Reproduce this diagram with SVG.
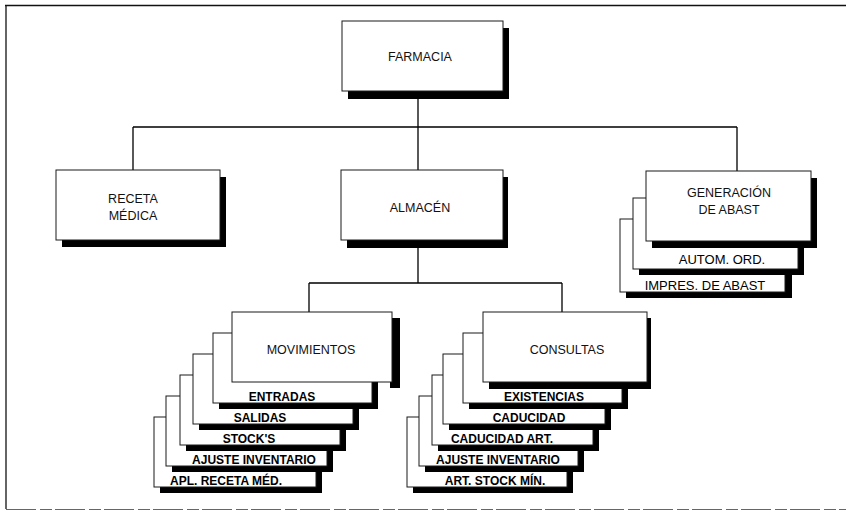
<svg xmlns="http://www.w3.org/2000/svg" width="850" height="516" viewBox="0 0 850 516">
  <style>
    .frame { stroke: #111; stroke-width: 1.3; fill: none; }
    .frame-low { stroke: #666; stroke-width: 1; fill: none; stroke-dasharray: 30 4 12 3; }
    .box { fill: #fff; stroke: #1a1a1a; stroke-width: 1; }
    .shadow { fill: #000; }
    .link { stroke: #000; stroke-width: 1.3; fill: none; }
    .label { font-family: "Liberation Sans", Arial, sans-serif; font-size: 12.5px; fill: #111; text-anchor: middle; }
    .tab { font-family: "Liberation Sans", Arial, sans-serif; font-size: 12px; font-weight: bold; fill: #000; text-anchor: middle; }
    .tab-n { font-family: "Liberation Sans", Arial, sans-serif; font-size: 13px; fill: #000; text-anchor: middle; }
  </style>

  <!-- page frame -->
  <g id="frame">
    <line class="frame" x1="5" y1="5.5" x2="846" y2="5.5"/>
    <line class="frame" x1="6" y1="5" x2="6" y2="509"/>
    <line class="frame-low" x1="6" y1="509.5" x2="846" y2="509.5"/>
  </g>

  <!-- connectors -->
  <g id="connectors">
    <path class="link" d="M418 99 V127 M133 127 H737 M133 127 V170 M418 127 V170 M737 127 V171"/>
    <path class="link" d="M418 248 V283 M309 283 H562 M309 283 V312 M562 283 V312"/>
  </g>

  <!-- top level -->
  <g id="farmacia">
    <rect class="shadow" x="348" y="28" width="161" height="71"/>
    <rect class="box" x="342" y="21" width="161" height="70"/>
    <text class="label" x="420" y="61">FARMACIA</text>
  </g>

  <!-- second level -->
  <g id="receta-medica">
    <rect class="shadow" x="62" y="177" width="164" height="70"/>
    <rect class="box" x="56" y="170" width="164" height="70"/>
    <text class="label" x="133" y="203">RECETA</text>
    <text class="label" x="133" y="220">MÉDICA</text>
  </g>

  <g id="almacen">
    <rect class="shadow" x="347" y="177" width="161" height="71"/>
    <rect class="box" x="341" y="170" width="162" height="70"/>
    <text class="label" x="420" y="212">ALMACÉN</text>
  </g>

  <!-- supply generation stack, drawn back to front -->
  <g id="generacion-abast">
    <g id="impres-abast">
      <rect class="shadow" x="626" y="226" width="166" height="72"/>
      <rect class="box" x="620" y="219" width="165" height="73"/>
      <text class="tab-n" x="705" y="290">IMPRES. DE ABAST</text>
    </g>
    <g id="autom-ord">
      <rect class="shadow" x="639" y="205" width="165" height="70"/>
      <rect class="box" x="633" y="198" width="165" height="71"/>
      <text class="tab-n" x="722" y="264">AUTOM. ORD.</text>
    </g>
    <g id="generacion">
      <rect class="shadow" x="652" y="178" width="165" height="70"/>
      <rect class="box" x="646" y="171" width="165" height="70"/>
      <text class="label" x="729" y="197">GENERACIÓN</text>
      <text class="label" x="729" y="214">DE ABAST</text>
    </g>
  </g>

  <!-- movements stack, drawn back to front -->
  <g id="movimientos-stack">
    <g id="apl-receta">
      <rect class="shadow" x="160" y="423" width="162" height="70"/>
      <rect class="box" x="154" y="417" width="162" height="70"/>
      <text class="tab" x="226" y="485">APL. RECETA MÉD.</text>
    </g>
    <g id="mov-ajuste">
      <rect class="shadow" x="172" y="402" width="161" height="70"/>
      <rect class="box" x="166" y="396" width="161" height="70"/>
      <text class="tab" x="254" y="464">AJUSTE INVENTARIO</text>
    </g>
    <g id="stocks">
      <rect class="shadow" x="186" y="381" width="160" height="70"/>
      <rect class="box" x="180" y="375" width="160" height="70"/>
      <text class="tab" x="249" y="443">STOCK'S</text>
    </g>
    <g id="salidas">
      <rect class="shadow" x="199" y="360" width="160" height="70"/>
      <rect class="box" x="193" y="354" width="160" height="70"/>
      <text class="tab" x="260" y="422">SALIDAS</text>
    </g>
    <g id="entradas">
      <rect class="shadow" x="219" y="339" width="159" height="70"/>
      <rect class="box" x="213" y="333" width="159" height="70"/>
      <text class="tab" x="282" y="401">ENTRADAS</text>
    </g>
    <g id="movimientos">
      <rect class="shadow" x="390" y="318" width="10" height="70"/>
      <rect class="box" x="232" y="312" width="160" height="70"/>
      <text class="label" x="311" y="354">MOVIMIENTOS</text>
    </g>
  </g>

  <!-- queries stack, drawn back to front -->
  <g id="consultas-stack">
    <g id="art-stock-min">
      <rect class="shadow" x="413" y="423" width="160" height="70"/>
      <rect class="box" x="407" y="417" width="160" height="70"/>
      <text class="tab" x="495" y="485">ART. STOCK MÍN.</text>
    </g>
    <g id="con-ajuste">
      <rect class="shadow" x="425" y="402" width="159" height="70"/>
      <rect class="box" x="419" y="396" width="159" height="70"/>
      <text class="tab" x="498" y="464">AJUSTE INVENTARIO</text>
    </g>
    <g id="caducidad-art">
      <rect class="shadow" x="438" y="381" width="161" height="70"/>
      <rect class="box" x="432" y="375" width="161" height="70"/>
      <text class="tab" x="502" y="443">CADUCIDAD ART.</text>
    </g>
    <g id="caducidad">
      <rect class="shadow" x="449" y="360" width="162" height="70"/>
      <rect class="box" x="443" y="354" width="162" height="70"/>
      <text class="tab" x="529" y="422">CADUCIDAD</text>
    </g>
    <g id="existencias">
      <rect class="shadow" x="469" y="339" width="159" height="70"/>
      <rect class="box" x="463" y="333" width="159" height="70"/>
      <text class="tab" x="544" y="401">EXISTENCIAS</text>
    </g>
    <g id="consultas">
      <rect class="shadow" x="489" y="318" width="162" height="71"/>
      <rect class="box" x="483" y="312" width="164" height="70"/>
      <text class="label" x="567" y="354">CONSULTAS</text>
    </g>
  </g>
</svg>
